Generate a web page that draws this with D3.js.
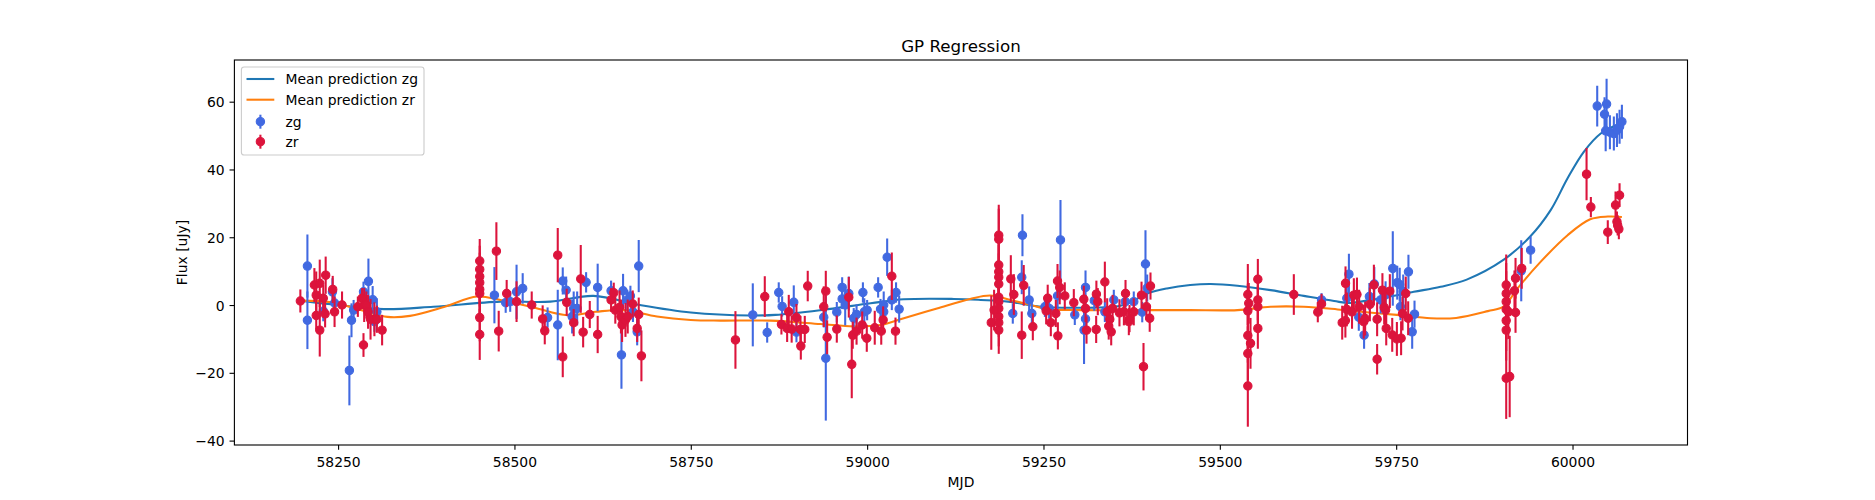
<!DOCTYPE html>
<html>
<head>
<meta charset="utf-8">
<script src="https://cdn.jsdelivr.net/npm/d3@7"></script>
<style>
html,body{margin:0;padding:0;background:#fff;}
svg text{font-family:"DejaVu Sans",sans-serif;fill:#000;}
</style>
</head>
<body>
<svg id="chart" width="1875" height="500"></svg>
<script>
// ---------- data ----------
const title = "GP Regression";
const xLabel = "MJD";
const yLabel = "Flux [uJy]";
const xTicks = [58250, 58500, 58750, 59000, 59250, 59500, 59750, 60000];
const yTicks = [-40, -20, 0, 20, 40, 60];
const legendLabels = ["Mean prediction zg", "Mean prediction zr", "zg", "zr"];

// zg observations: [MJD, flux, error]
const zgPoints = [
 [58206.5,11.5,9.3],[58206.5,-4.5,8.5],[58229,-1.8,3],[58242,3.9,4],[58245,0.6,3],
 [58266,-19.3,10.3],[58269,-4.5,5],[58272,-1.5,3],[58286,3.9,3],[58293,7,6.7],
 [58299,1.6,4],[58301.5,-4.9,3],[58305,-2,4],
 [58471.6,2.9,8.3],[58487.6,0.7,3],[58494,1,3],[58503,3.9,8],[58511.7,4.9,4.5],
 [58547,-3.7,3],[58561.4,-5.9,10.4],[58568.5,7.1,4],[58573.3,4.4,4],[58581.8,-3.4,5],
 [58584,-1,5],[58588.9,-1,5],[58601.6,6.7,3],[58618,5.2,7],[58637,4.2,3],[58654,4.2,5],
 [58651.7,-14.7,10],[58660,1.5,3],[58664.4,2.7,3],[58668,-2,3],[58674,-7.9,4],[58676.2,11.5,7.7],
 [58837.9,-2.9,9.3],[58858.3,-8.1,3],[58874.7,3.7,3],[58879.5,-0.4,3],[58896,0.8,5],
 [58899.8,-8,3],[58938.5,-3.6,3],[58941.4,-15.7,18.4],[58957,-2.1,3],[58964.6,5.2,3],
 [58964.6,1.8,3],[58968.9,0,6],[58974,3.4,5],[58981,-3.9,3],[58985,-2.8,3],[58994,3.7,3],
 [58996,-2,4],[59000,-1.5,3],[59015.6,5.2,3],[59019,-1.2,3],[59023.5,0,4],[59023.5,-2,3],
 [59028.4,14.1,5.5],[59035,1.5,3],[59041,3.7,3],[59045.4,-1.2,4],
 [59206.5,-2.5,3],[59220.2,20.6,6.2],[59219.2,8.2,5],[59229.7,1.5,4],[59233.5,-2.5,4],
 [59274.1,19.2,11.8],[59252,-0.5,3],[59258,-1,3],[59270,2.7,4],[59294.4,-2.9,3],
 [59309.6,5.2,5],[59307.5,-7.4,10],[59309.6,-4.1,4],[59322,1.3,3],[59337,-2,3],
 [59349.7,1.5,3],[59366,1,3],[59378,1,3],[59394.6,12.1,10],[59397,5,4],[59390,-2.1,3],
 [59644.2,1.5,2],[59683,9.1,6],[59680,2,4],[59697,-3.6,4],[59704.5,-8.9,4],[59712,2.5,4],
 [59719,6.2,5],[59728,1.5,4],[59735,3,4],[59745.2,10.8,11],[59751.5,6.6,5],[59755,6,5],
 [59756,-0.5,4],[59760,4,5],[59767.4,9.8,5],[59772.7,-7.9,5],[59776,-2.7,4],
 [59927.3,10.1,9],[59940.6,16.2,4],[60035,58.7,6],[60048.3,59.3,7.5],[60045.4,56.3,5],
 [60047,51.4,6],[60053,51,5],[60058.6,50.6,5],[60063,51.6,5],[60066.7,52.6,5],[60070,54.1,5]
];

// zr observations: [MJD, flux, error]
const zrPoints = [
 [58196.5,1.2,3.4],[58216.4,5.9,5],[58219,2.9,7],[58219,-3.1,4],[58224,6.4,7],[58224,-7.4,7.8],
 [58229,2,4],[58232.4,8.8,5.5],[58231.6,-2.6,4],[58242.4,4.6,4],[58245,-2,4.5],[58255.6,0,4],
 [58278,-0.5,3],[58284,2,3],[58286,-11.8,3.5],[58287,0,5],[58290,0,4],[58292.5,-2,5],
 [58296,-4.2,6],[58301.5,-4.2,5],[58305,-4.2,4],[58312.4,-7.4,4.5],
 [58450.8,13,6.5],[58450.8,10.5,7],[58450.8,8.4,7],[58450.8,6.6,7],[58450.8,4.6,7],
 [58450.8,3.4,7],[58450.8,-3.7,7],[58450.8,-8.7,7.5],[58474.4,15.9,8.5],[58477.7,-7.7,6],
 [58489,3.4,4],[58503,1,6],[58524.5,0,4],[58540,-4.1,4],[58543,-7.6,4],[58561.4,14.7,8],
 [58568.5,-15.3,6],[58574.1,0.8,4],[58584,-5.2,4],[58594,7.7,10],[58597.4,-8,4.5],
 [58606.8,-2.8,4],[58618,-8.7,5.5],[58637,1.5,3.5],[58640.8,3.6,3],[58643,-1.5,4],
 [58649,-0.7,5],[58651,-3.4,5],[58652.6,-5.9,5],[58657.4,-4.4,5],[58660.6,-3.4,5],
 [58667.7,0.3,4],[58674,-6.9,4],[58676.2,-2.8,5],[58680,-15,7.5],
 [58813.3,-10.3,8.5],[58854.9,2.5,6],[58878.5,-5.7,3],[58888.9,-2,5],[58886.6,-6.9,4],
 [58893,-7.1,4],[58899.8,-3.7,4],[58905.5,-7.2,4],[58911.6,-7.2,4],[58906,-12.1,4],
 [58915.8,5.6,4.5],[58941.4,4.1,6],[58938.5,-0.5,6],[58943.3,-9.5,5],[58957,-7.1,4],
 [58974,2.3,6],[58978.2,-17.5,10],[58979.6,-8.9,4],[58985,-7.7,4],[58993,-5.9,4],
 [58999.5,-9.8,4],[59010.8,-6.7,5],[59020,-7.7,4],[59022.7,-4.4,4],[59035,8.5,7],[59040.2,-7.7,4],
 [59186.6,20.6,9],[59186.6,19.4,9],[59186.6,11.8,8],[59186.6,9.8,8],[59186.6,8.2,7],
 [59186.6,6.2,7],[59186.6,2.3,6],[59186.6,1,6],[59186.6,-1,6],[59186.6,-3.4,6],
 [59186.6,-5.2,7],[59186.6,-7.4,7],[59180,-1.5,6],[59176,-5.2,8],[59203.7,7.7,7],
 [59208,3.1,6],[59222,5.8,6],[59219.2,-8.9,7],[59234.9,-6.4,4],[59269.9,7.1,5],
 [59273,5.2,5],[59256,2,4],[59253.8,-1.7,4],[59267.5,-2.5,4],[59260.4,-5.2,4],
 [59270.4,-9.1,4],[59280.2,2.7,4],[59293,0.7,4],[59307.2,1.7,4],[59309.6,-1,4],
 [59311,-7.4,4],[59324.7,-7.2,4],[59325,3.2,4],[59327,1,4],[59337,6.8,6],[59340.3,-2,4],
 [59344,-4.2,4],[59342.5,-6.2,4],[59346,-7.9,4],[59348,-1,4],[59357.7,-2.3,4],
 [59366.3,3.4,4],[59364,-2,4],[59371,-4.9,4],[59372,-4,4],[59378,-2,4],[59389,2.9,4],
 [59391.8,-18.2,7],[59396,-0.5,4],[59400.6,-3.9,4],[59401.7,5.6,4],
 [59539.7,3.1,9],[59539.7,-1.7,8],[59539.7,-9,8],[59539.7,-14.3,8],[59539.7,-23.9,12],
 [59543.5,-11.3,7.5],[59541,0.5,6],[59553.9,7.6,6],[59553.9,1.5,6],[59553.9,-0.5,6],
 [59553.9,-6.9,6],[59604.9,3.1,6],[59644.2,0.3,3],[59638.9,-2.1,3],
 [59678.2,6.4,5],[59690,2.9,5],[59694.4,3.1,5],[59680,-1.3,5],[59687.4,-2,5],
 [59673.5,-5.2,5],[59678,-4.6,5],[59697.5,-0.5,5],[59704,-4.9,5],[59706,-4,5],
 [59712.7,0.2,5],[59718.4,5.9,6],[59723,-4.2,5],[59723,-16,4.5],[59730.5,4.4,5],
 [59733,-0.7,5],[59735,-1.5,5],[59735.9,-6.9,5],[59741,4.1,5],[59744.4,-8.8,5],
 [59751,-10,5],[59757,-9.8,5],[59759,-2.5,5],[59763.6,3.4,5],[59767,-3.9,5],
 [59906,5.9,9],[59906,3.4,9],[59906,1,9],[59906,-1.3,9],[59906,-4.6,9],[59906,-7.4,9],
 [59906,-21.6,12],[59910.9,-21.1,12],[59909,-2,8],[59919.2,7.9,6],[59917.7,4.2,6],
 [59919.2,-2.2,6],[59928,10.8,6],[60019.9,38.6,7.7],[60026,28.9,3],[60050,21.5,3.5],
 [60061,29.5,4],[60066.7,32.4,3.5],[60063,24.6,3],[60065.7,22.4,3],[60064,23.5,3]
];

// GP mean predictions: [MJD, flux]
const zgMean = [
 [58197,1.3],[58250,0],[58315,-1.2],[58385,-0.5],[58480,1],[58551,1],[58612,2.7],
 [58678,0],[58750,-2.2],[58835,-3.1],[58870,-2.9],[58934,-1.5],[59005,0.5],[59052,1.7],
 [59123,1.8],[59161,1.5],[59200,1.0],[59246,-0.5],[59300,-0.8],[59364,0],[59397,3.4],
 [59425,4.9],[59458,5.9],[59487,6.2],[59525,5.7],[59572,4.4],[59619,2.7],[59662,1.2],
 [59683,0.6],[59727,2],[59775,3.9],[59813,5.4],[59850,7.5],[59902,13.3],[59940,20.2],
 [59969,28],[59993,37.4],[60016,45.2],[60040,50.6],[60070,53.8]
];
const zrMean = [
 [58197,1.3],[58240,0.8],[58286,-1.7],[58320,-3.5],[58352,-3.2],[58400,-0.6],[58447,2.5],
 [58480,1.5],[58527,-0.7],[58575,-3],[58615,-2.0],[58655,-1.5],[58702,-3.4],[58750,-4.4],
 [58792,-4.6],[58863,-4.6],[58934,-5.6],[58981,-6.3],[59019,-5.9],[59052,-3.9],
 [59099,-1],[59146,1.8],[59175,2.8],[59203,1.5],[59232,0],[59255,-1.2],[59302,-1.5],
 [59400,-1.5],[59458,-1.5],[59525,-1.5],[59572,-0.5],[59619,-0.5],[59667,-1.3],
 [59700,-2],[59751,-2.9],[59799,-3.9],[59835,-3.8],[59880,-1.8],[59902,-0.5],
 [59922,4.9],[59955,12.8],[59993,20.6],[60025,25.3],[60050,26.1],[60070,26]
];

// ---------- layout ----------
const W = 1875, H = 500;
const m = {left: 234.4, right: 1687.5, top: 60, bottom: 445};
const svg = d3.select("#chart");

const x = d3.scaleLinear().domain([58103, 60163]).range([m.left, m.right]);
const y = d3.scaleLinear().domain([-41.3, 72.3]).range([m.bottom, m.top]);

const cBlueLine = "#1f77b4", cOrangeLine = "#ff7f0e";
const cG = "#4169e1", cR = "#dc143c";
const fs = 13.9;

svg.append("defs").append("clipPath").attr("id","clip")
  .append("rect").attr("x",m.left).attr("y",m.top)
  .attr("width",m.right-m.left).attr("height",m.bottom-m.top);

const plot = svg.append("g").attr("clip-path","url(#clip)");

const line = d3.line().x(d=>x(d[0])).y(d=>y(d[1])).curve(d3.curveCatmullRom.alpha(0.5));
plot.append("path").datum(zgMean).attr("d",line)
  .attr("fill","none").attr("stroke",cBlueLine).attr("stroke-width",2.08);
plot.append("path").datum(zrMean).attr("d",line)
  .attr("fill","none").attr("stroke",cOrangeLine).attr("stroke-width",2.08);

function drawSeries(data, color){
  const g = plot.append("g");
  g.selectAll("line.err").data(data).join("line")
    .attr("x1",d=>x(d[0])).attr("x2",d=>x(d[0]))
    .attr("y1",d=>y(d[1]-d[2])).attr("y2",d=>y(d[1]+d[2]))
    .attr("stroke",color).attr("stroke-width",2.08);
  g.selectAll("circle").data(data).join("circle")
    .attr("cx",d=>x(d[0])).attr("cy",d=>y(d[1])).attr("r",4.17)
    .attr("fill",color).attr("stroke",color).attr("stroke-width",1.1);
}
drawSeries(zgPoints, cG);
drawSeries(zrPoints, cR);

// axes
const xAxis = d3.axisBottom(x).tickValues(xTicks).tickSize(4.86).tickPadding(4.86).tickFormat(d3.format("d"));
const yAxis = d3.axisLeft(y).tickValues(yTicks).tickSize(4.86).tickPadding(4.86).tickFormat(d3.format("d"));
const gx = svg.append("g").attr("transform",`translate(0,${m.bottom})`).call(xAxis);
const gy = svg.append("g").attr("transform",`translate(${m.left},0)`).call(yAxis);
[gx,gy].forEach(g=>{
  g.select(".domain").remove();
  g.selectAll(".tick line").attr("stroke","#000").attr("stroke-width",1.11);
  g.selectAll(".tick text").attr("font-size",fs).attr("font-family","DejaVu Sans").attr("fill","#000");
});
gx.selectAll(".tick text").attr("dy",null).attr("y",21.6);
gy.selectAll(".tick text").attr("dy","0.36em");

// frame
svg.append("rect").attr("x",m.left).attr("y",m.top)
  .attr("width",m.right-m.left).attr("height",m.bottom-m.top)
  .attr("fill","none").attr("stroke","#000").attr("stroke-width",1.11);

// labels
svg.append("text").attr("x",(m.left+m.right)/2).attr("y",51.7)
  .attr("text-anchor","middle").attr("font-size",16.7).text(title);
svg.append("text").attr("x",(m.left+m.right)/2).attr("y",487)
  .attr("text-anchor","middle").attr("font-size",fs).text(xLabel);
svg.append("text").attr("transform",`translate(186.5,${(m.top+m.bottom)/2}) rotate(-90)`)
  .attr("text-anchor","middle").attr("font-size",fs).text(yLabel);

// legend
const lg = svg.append("g");
lg.append("rect").attr("x",241.4).attr("y",67).attr("width",182.6).attr("height",88)
  .attr("rx",2.8).attr("fill","#fff").attr("fill-opacity",0.8)
  .attr("stroke","#cccccc").attr("stroke-width",1.11);
const rowY = [79, 99.7, 121.7, 141.7];
const handleX0 = 246.5, handleX1 = 274.3, textX = 285.5;
[[cBlueLine,0],[cOrangeLine,1]].forEach(([c,i])=>{
  lg.append("line").attr("x1",handleX0).attr("x2",handleX1).attr("y1",rowY[i]).attr("y2",rowY[i])
    .attr("stroke",c).attr("stroke-width",2.08);
});
[[cG,2],[cR,3]].forEach(([c,i])=>{
  const cx = (handleX0+handleX1)/2;
  lg.append("line").attr("x1",cx).attr("x2",cx).attr("y1",rowY[i]-7).attr("y2",rowY[i]+7)
    .attr("stroke",c).attr("stroke-width",2.08);
  lg.append("circle").attr("cx",cx).attr("cy",rowY[i]).attr("r",4.17)
    .attr("fill",c).attr("stroke",c).attr("stroke-width",1.1);
});
legendLabels.forEach((t,i)=>{
  lg.append("text").attr("x",textX).attr("y",rowY[i]).attr("dy","0.36em")
    .attr("font-size",fs).text(t);
});
</script>
</body>
</html>
